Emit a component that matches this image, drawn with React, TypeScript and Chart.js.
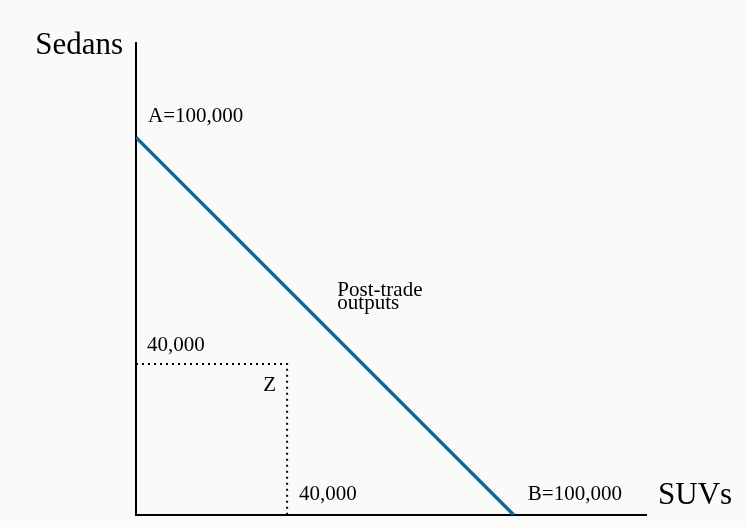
import React, { useEffect, useRef } from "react";
import { Chart, registerables } from "chart.js";

Chart.register(...registerables);

// Production possibility frontier (SUVs on x, Sedans on y)
const frontierSUVs = [0, 100000];
const frontierSedans = [100000, 0];

// Point Z guide lines
const guideSUVs = [0, 40000, 40000];
const guideSedans = [40000, 40000, 0];

const axisMaxSUVs = 135000;
const axisMaxSedans = 125000;

const xAxisTitle = "SUVs";
const yAxisTitle = "Sedans";
const labelA = "A=100,000";
const labelB = "B=100,000";
const labelZ = "Z";
const labelZY = "40,000";
const labelZX = "40,000";
const labelFrontier = ["Post-trade", "outputs"];

const SERIF = '"Liberation Serif", "Times New Roman", serif';

const textPlugin = {
  id: "annotText",
  afterDatasetsDraw(chart: any) {
    const { ctx, scales } = chart;
    const x = scales.x;
    const y = scales.y;
    const px = (v: number) => x.getPixelForValue(v);
    const py = (v: number) => y.getPixelForValue(v);
    ctx.save();
    ctx.fillStyle = "#000";
    ctx.textBaseline = "alphabetic";

    // Axis titles
    ctx.font = `31px ${SERIF}`;
    ctx.textAlign = "right";
    ctx.fillText(yAxisTitle, px(0) - 13, py(axisMaxSedans) + 11);
    ctx.textAlign = "left";
    ctx.fillText(xAxisTitle, px(axisMaxSUVs) + 12, py(0) - 11);

    ctx.font = `21px ${SERIF}`;
    // A label
    ctx.fillText(labelA, px(0) + 12, py(frontierSedans[0]) - 15);
    // B label
    ctx.fillText(labelB, px(frontierSUVs[1]) + 14, py(0) - 15);
    // Z guide labels
    ctx.fillText(labelZY, px(0) + 11, py(guideSedans[0]) - 13);
    ctx.fillText(labelZX, px(guideSUVs[1]) + 12, py(0) - 15);
    ctx.textAlign = "right";
    ctx.fillText(labelZ, px(guideSUVs[1]) - 11, py(guideSedans[0]) + 27);
    ctx.textAlign = "left";

    // Frontier label
    ctx.font = `21px ${SERIF}`;
    const fx = px(53300);
    const fy = py(58000);
    ctx.fillText(labelFrontier[0], fx, fy);
    ctx.fillText(labelFrontier[1], fx, fy + 13.5);
    ctx.restore();
  },
};

export default function App() {
  const canvasRef = useRef<HTMLCanvasElement | null>(null);

  useEffect(() => {
    document.body.style.margin = "0";
    const canvas = canvasRef.current;
    if (!canvas) return;
    const chart = new Chart(canvas, {
      type: "scatter",
      data: {
        datasets: [
          {
            label: "Frontier",
            data: frontierSUVs.map((v, i) => ({ x: v, y: frontierSedans[i] })),
            showLine: true,
            borderColor: "#0f6898",
            borderWidth: 3.5,
            pointRadius: 0,
            fill: false,
          },
          {
            label: "Z",
            data: guideSUVs.map((v, i) => ({ x: v, y: guideSedans[i] })),
            showLine: true,
            borderColor: "#000",
            borderWidth: 2,
            borderDash: [2, 4],
            borderCapStyle: "butt",
            pointRadius: 0,
            fill: false,
          },
        ],
      },
      options: {
        animation: false,
        responsive: false,
        maintainAspectRatio: false,
        layout: { padding: { left: 136, right: 100, top: 43, bottom: 12 } },
        plugins: {
          legend: { display: false },
          tooltip: { enabled: false },
        },
        scales: {
          x: {
            type: "linear",
            min: 0,
            max: axisMaxSUVs,
            ticks: { display: false },
            grid: { display: false, drawTicks: false },
            border: { display: true, color: "#000", width: 2 },
          },
          y: {
            type: "linear",
            min: 0,
            max: axisMaxSedans,
            ticks: { display: false },
            grid: { display: false, drawTicks: false },
            border: { display: true, color: "#000", width: 2 },
          },
        },
      },
      plugins: [textPlugin],
    });
    return () => chart.destroy();
  }, []);

  return (
    <div style={{ position: "fixed", left: 0, top: 0, width: 746, height: 527, background: "#fafafa" }}>
      <canvas ref={canvasRef} width={746} height={527} style={{ width: 746, height: 527 }} />
    </div>
  );
}
